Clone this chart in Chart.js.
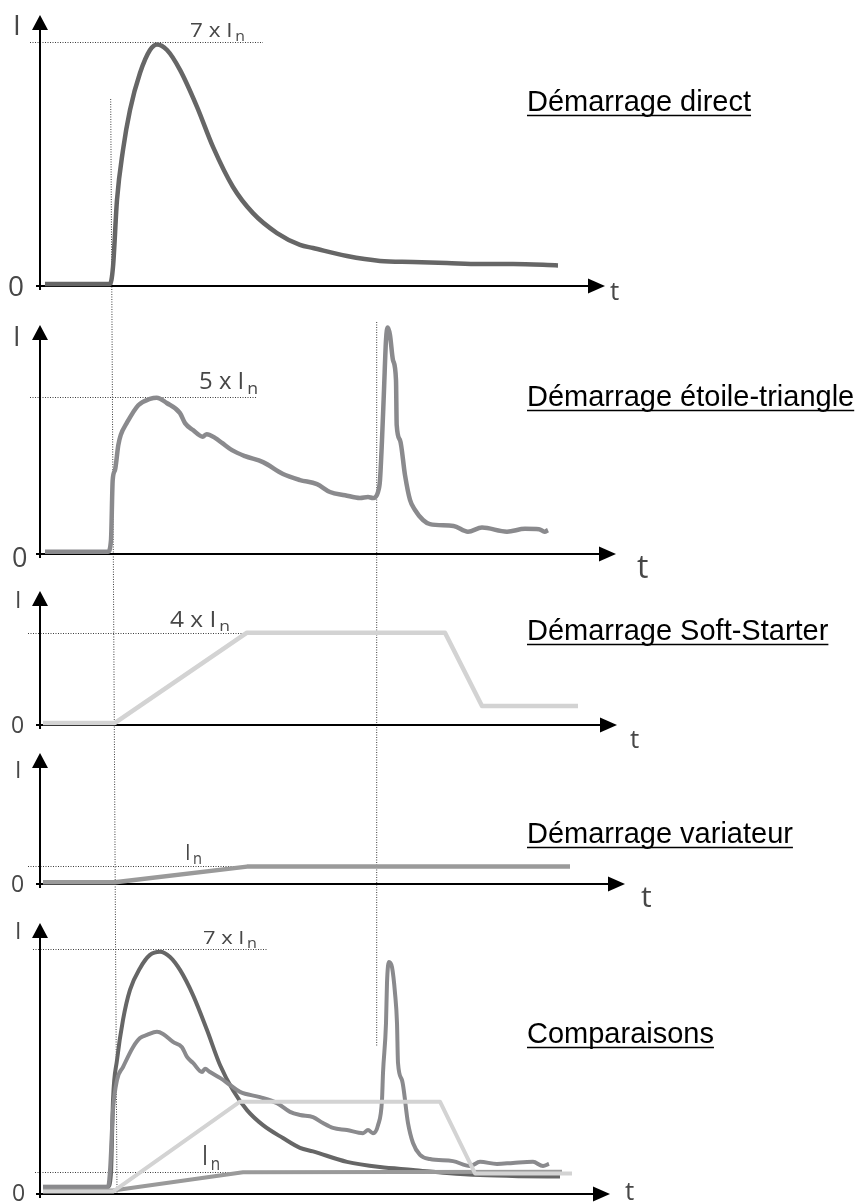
<!DOCTYPE html>
<html>
<head>
<meta charset="utf-8">
<script src="https://cdn.jsdelivr.net/npm/chart.js@4.4.1/dist/chart.umd.min.js"></script>
<style>
  html, body { margin: 0; padding: 0; background: #fff; }
  #wrap { position: relative; width: 859px; height: 1202px; overflow: hidden; }
  #wrap canvas { position: absolute; left: 0; }
</style>
</head>
<body>
<div id="wrap"></div>
<script>
// t = temps (unités arbitraires), I = courant en multiples de In

// Démarrage direct
const T_DIRECT = [5, 70, 73, 77, 83, 90, 100, 110, 117, 127, 140, 157, 173, 193, 213, 237, 260, 273, 307, 340, 373, 407, 440, 473, 518];
const I_DIRECT = [0.06, 0.06, 0.55, 2.47, 3.9, 5.05, 6.11, 6.77, 6.93, 6.77, 6.2, 5.14, 3.99, 2.84, 2.09, 1.52, 1.18, 1.09, 0.86, 0.72, 0.69, 0.66, 0.63, 0.63, 0.59];

// Démarrage étoile-triangle
const T_ETOILE = [5, 68, 71, 72.7, 75, 78.3, 80.7, 86.7, 98.3, 110, 116.7, 126.7, 140, 145, 153, 162.7, 166.7, 175, 182, 192,
  205, 223, 243, 260, 277, 290, 305, 320, 328, 333, 338, 340, 342, 344, 346, 347.7, 350, 353, 356, 356.7,
  360, 365, 370, 375, 383, 390, 413.6, 428, 442, 467, 485, 499, 504.6, 508];
const I_ETOILE = [0.07, 0.07, 0.44, 2.35, 2.67, 3.46, 3.78, 4.16, 4.73, 4.93, 4.97, 4.8, 4.48, 4.16, 3.94, 3.73, 3.81, 3.69, 3.53, 3.3,
  3.11, 2.92, 2.54, 2.35, 2.22, 1.97, 1.87, 1.78, 1.81, 1.78, 1.97, 2.35, 3.62, 5.21, 6.8, 7.2, 6.96, 6.16, 5.53, 4.1,
  3.62, 2.51, 1.72, 1.4, 1.08, 0.95, 0.89, 0.71, 0.84, 0.71, 0.8, 0.79, 0.71, 0.76];

// Démarrage Soft-Starter
const T_SOFT = [3, 75, 207, 405, 442, 538];
const I_SOFT = [0.09, 0.09, 4, 4, 0.82, 0.82];

// Démarrage variateur
const T_VAR = [3, 75, 207, 530];
const I_VAR = [0.09, 0.09, 0.95, 0.95];

// Comparaisons
const T_CMP_DIRECT = [3, 68, 71, 73, 77, 83, 90, 100, 110, 120, 130, 140, 153, 167, 180, 193, 207, 223, 243, 260, 273, 307, 340, 373, 407, 440, 480, 520];
const I_CMP_DIRECT = [0.21, 0.21, 0.6, 2.69, 3.83, 4.98, 5.84, 6.46, 6.84, 6.93, 6.78, 6.41, 5.69, 4.69, 3.69, 2.97, 2.4, 1.97, 1.6, 1.32, 1.22, 0.92, 0.77, 0.69, 0.6, 0.54, 0.51, 0.5];
const T_CMP_ETOILE = [3, 68, 70, 73, 77, 83, 93, 100, 107, 117, 123, 133, 142, 147, 153, 162, 165, 170, 180, 190,
  200, 220, 237, 250, 260, 273, 283, 293, 307, 323, 328, 333, 338, 342, 343, 346, 347, 349, 352, 355,
  357, 358, 362, 368, 373, 380, 390, 413, 430, 440, 457, 473, 493, 503, 509];
const I_CMP_ETOILE = [0.2, 0.2, 0.69, 2.4, 3.26, 3.63, 4.2, 4.46, 4.55, 4.64, 4.58, 4.35, 4.2, 3.92, 3.75, 3.49, 3.58, 3.49, 3.32, 3.12,
  2.92, 2.77, 2.6, 2.35, 2.26, 2.2, 2.03, 1.89, 1.83, 1.74, 1.83, 1.74, 1.97, 2.69, 3.46, 4.89, 6.04, 6.64, 6.49, 5.75,
  4.89, 3.75, 3.26, 2.03, 1.46, 1.12, 1.0, 0.94, 0.8, 0.92, 0.86, 0.89, 0.92, 0.8, 0.86];
const T_CMP_SOFT = [3, 73, 200, 400, 435, 532];
const I_CMP_SOFT = [0.07, 0.07, 2.64, 2.64, 0.59, 0.59];
const T_CMP_VAR = [3, 73, 203, 522];
const I_CMP_VAR = [0.1, 0.1, 0.62, 0.64];

// repères et textes
const REF_VALUES = [[7], [5], [4], [1], [7, 0.64]];
const REF_TEXT = [['7 x I'], ['5 x I'], ['4 x I'], ['I'], ['7 x I', 'I']];
const TITLES = ['Démarrage direct', 'Démarrage étoile-triangle', 'Démarrage Soft-Starter', 'Démarrage variateur', 'Comparaisons'];

// mise en page (pixels de la page)
const LAYOUT = [
  { top: 0, h: 305, yMaxPx: 42, basePx: 286, yMax: 7, yTip: 15, xTip: 605, fs: 28, ts: 26,
    iLab: [13, 35], zLab: [8, 296], tLab: [610, 300], title: 111,
    refs: [{ t0: -10, t1: 223, lx: 190, ly: 37, lw: 55, fs: 20 }] },
  { top: 305, h: 283, yMaxPx: 396.7, basePx: 554, yMax: 5, yTip: 325, xTip: 616, fs: 27, ts: 32,
    iLab: [13, 346], zLab: [12, 567], tLab: [637, 578], title: 406,
    refs: [{ t0: -10, t1: 217, lx: 199, ly: 389, lw: 59, fs: 23 }] },
  { top: 588, h: 162, yMaxPx: 632.7, basePx: 725, yMax: 4, yTip: 591, xTip: 617, fs: 23, ts: 26,
    iLab: [15, 608], zLab: [11, 733], tLab: [630, 748], title: 640,
    refs: [{ t0: -12, t1: 231, lx: 170, ly: 627, lw: 60, fs: 21 }] },
  { top: 750, h: 160, yMaxPx: 865.7, basePx: 884, yMax: 1, yTip: 753, xTip: 625, fs: 23, ts: 30,
    iLab: [15, 778], zLab: [11, 892], tLab: [641, 907], title: 843,
    refs: [{ t0: -12, t1: 230, lx: 185, ly: 860, lw: 17, fs: 22 }] },
  { top: 910, h: 292, yMaxPx: 949.3, basePx: 1194, yMax: 7, yTip: 923, xTip: 610, fs: 23, ts: 26,
    iLab: [15, 939], zLab: [12, 1201], tLab: [625, 1200], title: 1043,
    refs: [{ t0: -7, t1: 228, lx: 203, ly: 944, lw: 54, fs: 19 },
           { t0: -5, t1: 350, lx: 202, ly: 1165, lw: 18, fs: 27 }] }
];
const GUIDES = [
  { x0: 110.7, y0: 99, x1: 117, y1: 1195 },
  { x0: 376.7, y0: 322, x1: 376.7, y1: 1047 }
];

const C_DIRECT = '#666666', C_ETOILE = '#8a8a8d', C_SOFT = '#d3d3d3', C_VAR = '#9a9a9a';

function seg(ctx, x0, y0, x1, y1) {
  ctx.beginPath(); ctx.moveTo(x0, y0); ctx.lineTo(x1, y1); ctx.stroke();
}
function tri(ctx, p) {
  ctx.beginPath(); ctx.moveTo(p[0][0], p[0][1]); ctx.lineTo(p[1][0], p[1][1]); ctx.lineTo(p[2][0], p[2][1]);
  ctx.closePath(); ctx.fill();
}
function drawSub(ctx, main, sub, x, y, fs, w) {
  const sf = Math.round(fs * 0.72), gap = fs * 0.12;
  ctx.font = fs + 'px "Open Sans"';
  const mw = ctx.measureText(main).width;
  ctx.font = sf + 'px "Open Sans"';
  const sw = ctx.measureText(sub).width;
  const k = w / (mw + gap + sw);
  ctx.save();
  ctx.translate(x, y); ctx.scale(k, 1);
  ctx.font = fs + 'px "Open Sans"'; ctx.fillText(main, 0, 0);
  ctx.font = sf + 'px "Open Sans"'; ctx.fillText(sub, mw + gap, fs * 0.2);
  ctx.restore();
}

const deco = {
  id: 'deco',
  beforeDatasetsDraw(chart, args, opts) {
    const p = opts.panel, L = LAYOUT[p], ctx = chart.ctx, off = L.top;
    const xs = chart.scales.x, ys = chart.scales.y;
    const x0 = xs.getPixelForValue(0), y0 = ys.getPixelForValue(0);
    ctx.save();
    // pointillés
    ctx.lineWidth = 1; ctx.strokeStyle = '#3c3c3c'; ctx.setLineDash([1, 1.5]);
    REF_VALUES[p].forEach((v, k) => {
      const r = L.refs[k], y = Math.round(ys.getPixelForValue(v)) + 0.5;
      seg(ctx, xs.getPixelForValue(r.t0), y, xs.getPixelForValue(r.t1), y);
    });
    GUIDES.forEach(g => seg(ctx, g.x0, g.y0 - off, g.x1, g.y1 - off));
    // axes avec flèches
    ctx.setLineDash([]); ctx.strokeStyle = '#000'; ctx.fillStyle = '#000'; ctx.lineWidth = 2;
    const yt = L.yTip - off;
    seg(ctx, x0, y0 + 4, x0, yt + 10);
    tri(ctx, [[x0, yt], [x0 - 8, yt + 15], [x0 + 8, yt + 15]]);
    seg(ctx, x0 - 4, y0, L.xTip - 10, y0);
    tri(ctx, [[L.xTip, y0], [L.xTip - 17, y0 - 7.5], [L.xTip - 17, y0 + 7.5]]);
    ctx.restore();
  },
  afterDatasetsDraw(chart, args, opts) {
    const p = opts.panel, L = LAYOUT[p], ctx = chart.ctx, off = L.top;
    ctx.save();
    ctx.fillStyle = '#474747';
    ctx.textBaseline = 'alphabetic';
    ctx.font = L.fs + 'px "Open Sans"';
    ctx.fillText('I', L.iLab[0], L.iLab[1] - off);
    ctx.fillText('0', L.zLab[0], L.zLab[1] - off);
    ctx.font = L.ts + 'px "Open Sans"';
    ctx.fillText('t', L.tLab[0], L.tLab[1] - off);
    REF_TEXT[p].forEach((txt, k) => {
      const r = L.refs[k];
      drawSub(ctx, txt, 'n', r.lx, r.ly - off, r.fs, r.lw);
    });
    // titre souligné
    ctx.fillStyle = '#000'; ctx.strokeStyle = '#000';
    ctx.font = '29px "Liberation Sans", Arial, sans-serif';
    const tw = ctx.measureText(TITLES[p]).width;
    ctx.fillText(TITLES[p], 527, L.title - off);
    ctx.lineWidth = 1.6;
    seg(ctx, 527, L.title - off + 4.5, 527 + tw, L.title - off + 4.5);
    ctx.restore();
  }
};

function series(ts, is, color, extra) {
  return Object.assign({
    data: ts.map((t, k) => ({ x: t, y: is[k] })),
    borderColor: color, borderWidth: 4.5, pointRadius: 0, fill: false, clip: false,
    borderJoinStyle: 'round', borderCapStyle: 'butt', tension: 0
  }, extra || {});
}

const wrap = document.getElementById('wrap');
function makeChart(p, datasets) {
  const L = LAYOUT[p];
  const cv = document.createElement('canvas');
  cv.width = 859; cv.height = L.h;
  cv.style.top = L.top + 'px';
  cv.style.width = '859px'; cv.style.height = L.h + 'px';
  wrap.appendChild(cv);
  return new Chart(cv.getContext('2d'), {
    type: 'line',
    data: { datasets: datasets },
    options: {
      responsive: false,
      animation: false,
      events: [],
      elements: { line: { capBezierPoints: false } },
      layout: { padding: { left: 40, right: 259, top: L.yMaxPx - L.top, bottom: L.top + L.h - L.basePx } },
      plugins: { legend: { display: false }, tooltip: { enabled: false }, deco: { panel: p } },
      scales: {
        x: { type: 'linear', min: 0, max: 560, display: false },
        y: { type: 'linear', min: 0, max: L.yMax, display: false }
      }
    },
    plugins: [deco]
  });
}

const smooth = { cubicInterpolationMode: 'monotone' };

makeChart(0, [series(T_DIRECT, I_DIRECT, C_DIRECT, smooth)]);
makeChart(1, [series(T_ETOILE, I_ETOILE, C_ETOILE, smooth)]);
makeChart(2, [series(T_SOFT, I_SOFT, C_SOFT)]);
makeChart(3, [series(T_VAR, I_VAR, C_VAR)]);
makeChart(4, [
  series(T_CMP_SOFT, I_CMP_SOFT, C_SOFT, { borderWidth: 4 }),
  series(T_CMP_VAR, I_CMP_VAR, C_VAR, { borderWidth: 4 }),
  series(T_CMP_ETOILE, I_CMP_ETOILE, C_ETOILE, Object.assign({ borderWidth: 4 }, smooth)),
  series(T_CMP_DIRECT, I_CMP_DIRECT, C_DIRECT, Object.assign({ borderWidth: 4 }, smooth))
]);
</script>
</body>
</html>
